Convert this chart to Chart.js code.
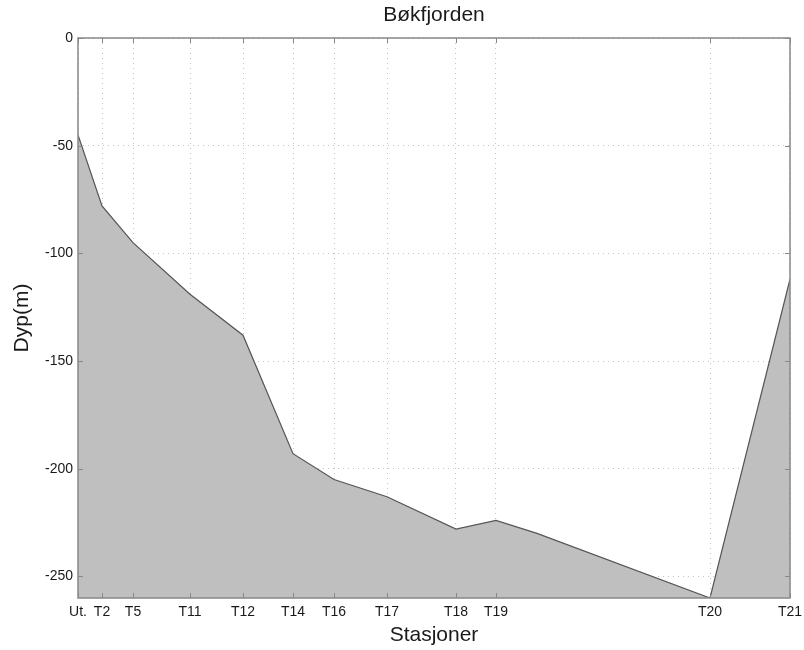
<!DOCTYPE html>
<html>
<head>
<meta charset="utf-8">
<script src="https://cdn.jsdelivr.net/npm/chart.js@4.4.0/dist/chart.umd.min.js"></script>
<style>
  html, body { margin: 0; padding: 0; background: #ffffff; }
  #wrap { width: 804px; height: 650px; position: relative; }
</style>
</head>
<body>
<div id="wrap"><canvas id="c" width="804" height="650"></canvas></div>
<script>
// Station tick positions along the section (arbitrary distance units) and their labels
const tickPositions = [0, 2.4, 5.5, 11.2, 16.5, 21.5, 25.6, 30.9, 37.8, 41.8, 63.2, 71.2];
const tickLabels = ['Ut.', 'T2', 'T5', 'T11', 'T12', 'T14', 'T16', 'T17', 'T18', 'T19', 'T20', 'T21'];
// Bottom profile vertices (distance, depth in m)
const profileDistance = [0, 2.4, 5.5, 11.2, 16.5, 21.5, 25.6, 30.9, 37.8, 41.8, 45.9, 63.2, 71.2];
const profileDepth = [-45, -78, -95, -119, -138, -193, -205, -213, -228, -224, -230, -260, -112];
// Depth axis ticks
const depthTicks = [0, -50, -100, -150, -200, -250];

const FONT = "'Liberation Sans', Arial, Helvetica, sans-serif";

const boxPlugin = {
  id: 'matlabBox',
  afterDatasetsDraw(chart) {
    const { ctx, chartArea: a, scales } = chart;
    const tl = 5;
    ctx.save();
    ctx.strokeStyle = '#888888';
    ctx.lineWidth = 1;
    ctx.beginPath();
    scales.x.ticks.forEach(t => {
      const px = Math.round(scales.x.getPixelForValue(t.value)) + 0.5;
      ctx.moveTo(px, a.top); ctx.lineTo(px, a.top + tl);
      ctx.moveTo(px, a.bottom); ctx.lineTo(px, a.bottom - tl);
    });
    scales.y.ticks.forEach(t => {
      const py = Math.round(scales.y.getPixelForValue(t.value)) + 0.5;
      ctx.moveTo(a.left, py); ctx.lineTo(a.left + tl, py);
      ctx.moveTo(a.right, py); ctx.lineTo(a.right - tl, py);
    });
    ctx.stroke();
    ctx.lineWidth = 1.5;
    ctx.strokeRect(a.left, a.top, a.right - a.left, a.bottom - a.top);
    ctx.restore();
  }
};

new Chart(document.getElementById('c'), {
  type: 'line',
  data: {
    datasets: [{
      data: profileDistance.map((d, i) => ({ x: d, y: profileDepth[i] })),
      fill: 'start',
      backgroundColor: '#bfbfbf',
      borderColor: '#555555',
      borderWidth: 1.2,
      pointRadius: 0,
      tension: 0
    }]
  },
  options: {
    responsive: false,
    animation: false,
    layout: { padding: { left: 0, right: 14, top: 0, bottom: 0 } },
    plugins: {
      legend: { display: false },
      tooltip: { enabled: false },
      title: { display: false }
    },
    scales: {
      x: {
        type: 'linear',
        min: tickPositions[0],
        max: tickPositions[tickPositions.length - 1],
        afterBuildTicks: s => { s.ticks = tickPositions.map(v => ({ value: v })); },
        afterFit: s => { s.height = 52; s.paddingLeft = 0; s.paddingRight = 0; },
        ticks: {
          autoSkip: false,
          maxRotation: 0,
          padding: 6,
          color: '#1a1a1a',
          font: { family: FONT, size: 14 },
          callback: (v, i) => tickLabels[i]
        },
        grid: { color: '#c4c4c4', lineWidth: 1, drawTicks: false },
        border: { display: false, dash: [1, 4] },
        title: {
          display: true,
          text: 'Stasjoner',
          color: '#1a1a1a',
          font: { family: FONT, size: 21 },
          padding: { top: 4, bottom: 2 }
        }
      },
      xTop: {
        type: 'linear',
        position: 'top',
        min: tickPositions[0],
        max: tickPositions[tickPositions.length - 1],
        afterFit: s => { s.height = 38; s.paddingLeft = 0; s.paddingRight = 0; },
        ticks: { display: false },
        grid: { display: false, drawTicks: false },
        border: { display: false },
        title: {
          display: true,
          text: 'Bøkfjorden',
          color: '#1a1a1a',
          font: { family: FONT, size: 21 },
          padding: { top: 3, bottom: 0 }
        }
      },
      y: {
        type: 'linear',
        min: -260,
        max: 0,
        afterBuildTicks: s => { s.ticks = depthTicks.map(v => ({ value: v })); },
        afterFit: s => { s.width = 78; },
        ticks: {
          padding: 5,
          color: '#1a1a1a',
          font: { family: FONT, size: 14 }
        },
        grid: { color: '#c4c4c4', lineWidth: 1, drawTicks: false },
        border: { display: false, dash: [1, 4] },
        title: {
          display: true,
          text: 'Dyp(m)',
          color: '#1a1a1a',
          font: { family: FONT, size: 21 },
          padding: { top: 10, bottom: 0 }
        }
      }
    }
  },
  plugins: [boxPlugin]
});
</script>
</body>
</html>
